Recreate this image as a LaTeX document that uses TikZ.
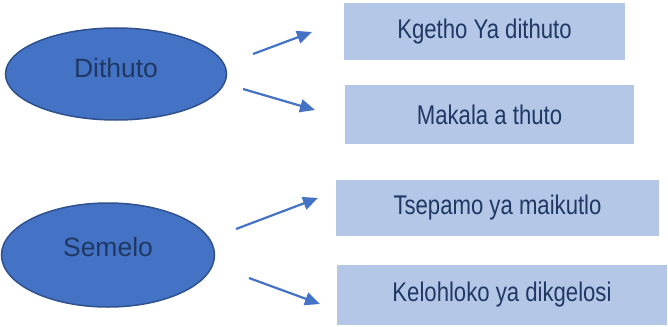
\documentclass[tikz,border=0pt]{standalone}
\usepackage{fontspec}
\setmainfont{Liberation Sans}
\newfontfamily\narrowfont[FakeStretch=0.82]{Liberation Sans}
\usetikzlibrary{arrows.meta,shapes.geometric}
\definecolor{ellfill}{HTML}{4472C4}
\definecolor{elldraw}{HTML}{2F528F}
\definecolor{boxfill}{HTML}{B4C7E7}
\definecolor{txtcol}{HTML}{1F3864}
\definecolor{arrcol}{HTML}{4472C4}
\tikzset{
  ell/.style={ellipse, fill=ellfill, draw=elldraw, line width=1.5pt, inner sep=0pt},
  elltxt/.style={text=txtcol, font=\fontsize{26.5}{30}\selectfont},
  boxnode/.style={rectangle, fill=boxfill, inner sep=0pt, text=txtcol, font=\narrowfont\fontsize{27}{30}\selectfont},
  arr/.style={draw=arrcol, line width=2.2pt, -{Triangle[length=15pt,width=13pt]}}
}
\begin{document}
\begin{tikzpicture}[x=1pt,y=-1pt]
\useasboundingbox (0,0) rectangle (668,326);
% ellipses
\node[ell, minimum width=221pt, minimum height=92pt] (e1) at (116,74) {};
\node[elltxt] (t1) at (116,68) {Dithuto};
\node[ell, minimum width=213pt, minimum height=104pt] (e2) at (108,255) {};
\node[elltxt] (t2) at (108,247) {Semelo};
% boxes
\node[boxnode, minimum width=281pt, minimum height=57pt] (b1) at (484.5,31.5) {Kgetho Ya dithuto};
\node[boxnode, minimum width=289pt, minimum height=59pt] (b2) at (489.5,114.5) {Makala a thuto};
\node[boxnode, minimum width=323pt, minimum height=56pt] (b3) at (497.5,208) {Tsepamo ya maikutlo};
\node[boxnode, minimum width=330pt, minimum height=60pt] (b4) at (502,295) {Kelohloko ya dikgelosi};
% arrow ends
\coordinate (a1s) at (253,54);
\coordinate (a1e) at (312,32);
\coordinate (a2s) at (243,89);
\coordinate (a2e) at (315,110);
\coordinate (a3s) at (236,229);
\coordinate (a3e) at (318,198);
\coordinate (a4s) at (249,278);
\coordinate (a4e) at (320,304);
\draw[arr] (a1s) -- (a1e);
\draw[arr] (a2s) -- (a2e);
\draw[arr] (a3s) -- (a3e);
\draw[arr] (a4s) -- (a4e);
\end{tikzpicture}
\end{document}
